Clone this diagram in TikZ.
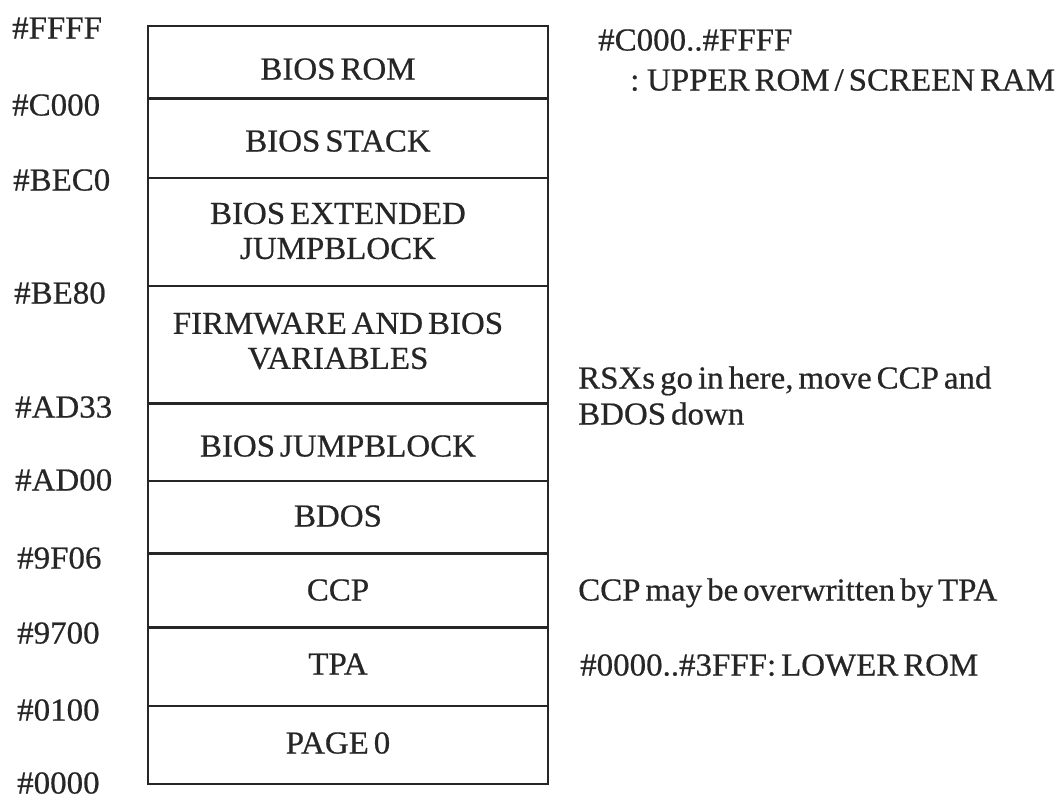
\documentclass[tikz,border=0pt]{standalone}
\usepackage{fontspec}
\setmainfont{Liberation Serif}[WordSpace=0.6, FakeStretch=1.03, FakeBold=0.6]
\definecolor{ink}{HTML}{262626}
\begin{document}
\begin{tikzpicture}[x=1pt,y=-1pt,
  every node/.style={font=\fontsize{32}{35}\selectfont, text=ink, inner sep=0pt},
  oneline/.style={text height=21pt, text depth=0pt},
  addr/.style={oneline, anchor=west},
  region/.style={align=center, anchor=center},
  note/.style={oneline, anchor=west},
  mapline/.style={draw=ink, line width=2.2pt}]
\useasboundingbox (0,0) rectangle (1064,800);
% memory map outline and dividers
\coordinate (tl) at (148,26);
\coordinate (br) at (548,784);
\draw[mapline] (tl) rectangle (br);
\foreach \yy/\nm in {98.5/c000,178/bec0,286/be80,403.5/ad33,481/ad00,553.5/9f06,627.5/9700,706/0100}{
  \coordinate (l\nm) at (148,\yy);
  \coordinate (r\nm) at (548,\yy);
  \draw[mapline] (l\nm) -- (r\nm);
}
% region labels
\node[region, oneline] (rom)   at (338,69)  {BIOS ROM};
\node[region, oneline] (stack) at (338,141) {BIOS STACK};
\node[region] (ext)   at (338,231) {BIOS EXTENDED\\JUMPBLOCK};
\node[region] (fw)    at (338,341) {FIRMWARE AND BIOS\\VARIABLES};
\node[region, oneline] (jb)    at (338,446) {BIOS JUMPBLOCK};
\node[region, oneline] (bdos)  at (338,516) {BDOS};
\node[region, oneline] (ccp)   at (338,590) {CCP};
\node[region, oneline] (tpa)   at (338,664) {TPA};
\node[region, oneline] (page0) at (338,743) {PAGE 0};
% addresses
\node[addr] (aFFFF) at (12,28)  {\#FFFF};
\node[addr] (aC000) at (12,105) {\#C000};
\node[addr] (aBEC0) at (13,180) {\#BEC0};
\node[addr] (aBE80) at (14,293) {\#BE80};
\node[addr] (aAD33) at (15,407) {\#AD33};
\node[addr] (aAD00) at (15,480) {\#AD00};
\node[addr] (a9F06) at (17,558) {\#9F06};
\node[addr] (a9700) at (17,633) {\#9700};
\node[addr] (a0100) at (17,710) {\#0100};
\node[addr] (a0000) at (17,783) {\#0000};
% notes
\node[note] (n1a) at (598,40)  {\#C000..\#FFFF};
\node[note] (n1b) at (630,80)  {: UPPER ROM / SCREEN RAM};
\node[note] (n2a) at (578,378) {RSXs go in here, move CCP and};
\node[note] (n2b) at (578,414) {BDOS down};
\node[note] (n3)  at (578,590) {CCP may be overwritten by TPA};
\node[note] (n4)  at (580,665) {\#0000..\#3FFF: LOWER ROM};
\end{tikzpicture}
\end{document}
